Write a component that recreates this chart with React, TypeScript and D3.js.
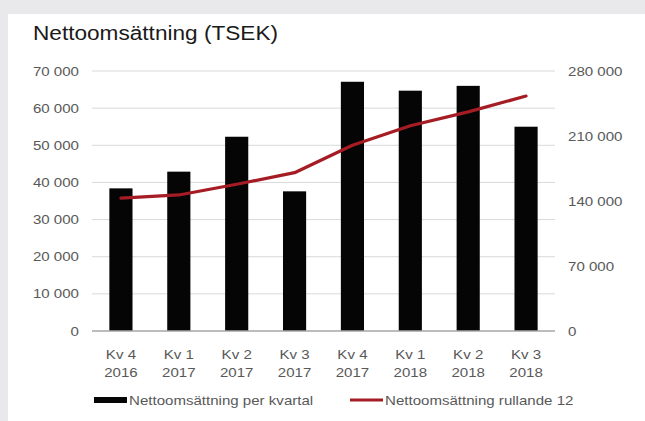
import { useEffect, useRef } from "react";
import * as d3 from "d3";

const quarters = ["Kv 4", "Kv 1", "Kv 2", "Kv 3", "Kv 4", "Kv 1", "Kv 2", "Kv 3"];
const years = ["2016", "2017", "2017", "2017", "2017", "2018", "2018", "2018"];
const perQuarter = [38400, 42900, 52300, 37600, 67100, 64700, 66000, 55000];
const rolling12 = [143000, 146500, 158000, 170500, 200000, 221000, 236000, 253000];
const leftTicks = [0, 10000, 20000, 30000, 40000, 50000, 60000, 70000];
const rightTicks = [0, 70000, 140000, 210000, 280000];

const W = 645;
const H = 421;
const FONT = "'Liberation Sans', Arial, sans-serif";
// the source text is a bit wider than Arial, stretch it horizontally
const SX = 1.16;

const fmt = (v: number) => d3.format(",")(v).replace(/,/g, " ");

export default function App() {
  const svgRef = useRef<SVGSVGElement>(null);

  useEffect(() => {
    const svg = d3.select(svgRef.current);
    svg.selectAll("*").remove();

    const margin = { top: 71, right: 90, bottom: 90, left: 92 };
    const w = W - margin.left - margin.right;
    const h = H - margin.top - margin.bottom;

    // background: grey frame with white panel
    svg.append("rect").attr("width", W).attr("height", H).attr("fill", "#e9e9eb");
    svg.append("rect").attr("x", 8).attr("y", 14).attr("width", W - 8).attr("height", H - 14).attr("fill", "#fff");

    svg
      .append("text")
      .attr("transform", `translate(33,40) scale(${SX},1)`)
      .attr("font-family", FONT)
      .attr("font-size", 19.5)
      .attr("fill", "#1a1a1a")
      .text("Nettoomsättning (TSEK)");

    const g = svg.append("g").attr("transform", `translate(${margin.left},${margin.top})`);

    const x = d3.scaleBand<number>().domain(d3.range(perQuarter.length)).range([0, w]).paddingInner(0.6).paddingOuter(0.3);
    const yL = d3.scaleLinear().domain([0, 70000]).range([h, 0]);
    const yR = d3.scaleLinear().domain([0, 280000]).range([h, 0]);
    const cx = (i: number) => x(i)! + x.bandwidth() / 2;

    // gridlines
    g.selectAll(".grid")
      .data(leftTicks.slice(1))
      .join("line")
      .attr("x1", 0)
      .attr("x2", w)
      .attr("y1", (d) => yL(d))
      .attr("y2", (d) => yL(d))
      .attr("stroke", "#d9d9d9")
      .attr("stroke-width", 1);

    // left tick labels
    g.selectAll(".lt")
      .data(leftTicks)
      .join("text")
      .attr("transform", (d) => `translate(-13,${yL(d)}) scale(${SX},1)`)
      .attr("dy", "0.35em")
      .attr("text-anchor", "end")
      .attr("font-family", FONT)
      .attr("font-size", 13)
      .attr("fill", "#595959")
      .text((d) => fmt(d));

    // right tick labels
    g.selectAll(".rt")
      .data(rightTicks)
      .join("text")
      .attr("transform", (d) => `translate(${w + 13},${yR(d)}) scale(${SX},1)`)
      .attr("dy", "0.35em")
      .attr("text-anchor", "start")
      .attr("font-family", FONT)
      .attr("font-size", 13)
      .attr("fill", "#595959")
      .text((d) => fmt(d));

    // bars
    g.selectAll(".bar")
      .data(perQuarter)
      .join("rect")
      .attr("x", (_, i) => x(i)!)
      .attr("y", (d) => yL(d))
      .attr("width", x.bandwidth())
      .attr("height", (d) => h - yL(d))
      .attr("fill", "#050505");

    // baseline
    g.append("line")
      .attr("x1", 0)
      .attr("x2", w)
      .attr("y1", h)
      .attr("y2", h)
      .attr("stroke", "#a6a6a6")
      .attr("stroke-width", 1.5);

    // rolling line
    const line = d3
      .line<number>()
      .x((_, i) => cx(i))
      .y((d) => yR(d));
    g.append("path")
      .datum(rolling12)
      .attr("d", line)
      .attr("fill", "none")
      .attr("stroke", "#a51c24")
      .attr("stroke-width", 3.2)
      .attr("stroke-linecap", "round")
      .attr("stroke-linejoin", "round");

    // x labels
    const xl = g
      .selectAll(".xl")
      .data(quarters)
      .join("text")
      .attr("transform", (_, i) => `translate(${cx(i)},${h + 28}) scale(${SX},1)`)
      .attr("text-anchor", "middle")
      .attr("font-family", FONT)
      .attr("font-size", 13)
      .attr("fill", "#595959");
    xl.append("tspan").text((d) => d);
    xl.append("tspan")
      .attr("x", 0)
      .attr("dy", 18)
      .text((_, i) => years[i]);

    // legend
    const lg = svg.append("g").attr("font-family", FONT).attr("font-size", 13).attr("fill", "#595959");
    lg.append("rect").attr("x", 94).attr("y", 397).attr("width", 33).attr("height", 6).attr("fill", "#050505");
    lg.append("text").attr("transform", `translate(129,404.5) scale(${SX},1)`).text("Nettoomsättning per kvartal");
    lg.append("line")
      .attr("x1", 350)
      .attr("x2", 383)
      .attr("y1", 400)
      .attr("y2", 400)
      .attr("stroke", "#a51c24")
      .attr("stroke-width", 3);
    lg.append("text").attr("transform", `translate(385,404.5) scale(${SX},1)`).text("Nettoomsättning rullande 12");
  }, []);

  return (
    <div style={{ position: "fixed", left: 0, top: 0 }}>
      <svg ref={svgRef} width={W} height={H} style={{ display: "block" }} />
    </div>
  );
}
